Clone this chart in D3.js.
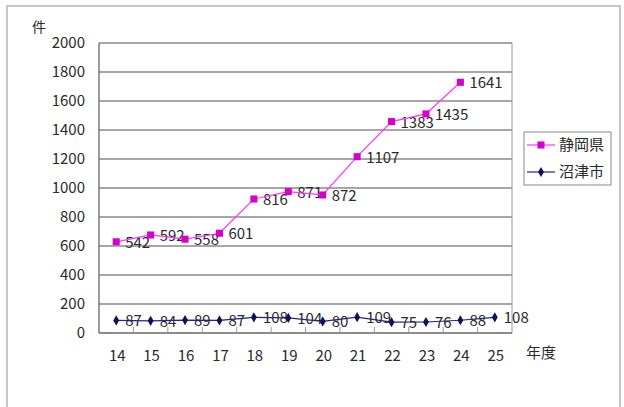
<!DOCTYPE html>
<html>
<head>
<meta charset="utf-8">
<script src="https://cdn.jsdelivr.net/npm/d3@7"></script>
<style>
  body { margin: 0; background: #fff; }
  svg text { font-family: "Noto Sans CJK JP", "DejaVu Sans", sans-serif; fill: #2a2a2a; }
</style>
</head>
<body>
<svg id="chart" width="624" height="407"></svg>
<script>
// 年度 / 件数 (stacked line: 静岡県 sits on top of 沼津市)
const years = ["14", "15", "16", "17", "18", "19", "20", "21", "22", "23", "24", "25"]
const numazu = [87, 84, 89, 87, 108, 104, 80, 109, 75, 76, 88, 108]
const shizuoka = [542, 592, 558, 601, 816, 871, 872, 1107, 1383, 1435, 1641, null]
const yTicks = [0, 200, 400, 600, 800, 1000, 1200, 1400, 1600, 1800, 2000]
const seriesNames = ["静岡県", "沼津市"]

const svg = d3.select("#chart")
const plot = { left: 99, right: 512, top: 43, bottom: 333 }

// outer frame
svg.append("rect")
  .attr("x", 7).attr("y", 6)
  .attr("width", 613).attr("height", 420)
  .attr("fill", "#fff")
  .attr("stroke", "#b4b4b4")
  .attr("stroke-width", 1.5)

const x = d3.scalePoint().domain(years).range([plot.left, plot.right]).padding(0.5)
const y = d3.scaleLinear().domain([0, 2000]).range([plot.bottom, plot.top])
const step = x.step()

// grid lines
svg.append("g")
  .selectAll("line")
  .data(yTicks.filter(d => d > 0))
  .enter()
  .append("line")
  .attr("x1", plot.left).attr("x2", plot.right)
  .attr("y1", d => y(d)).attr("y2", d => y(d))
  .attr("stroke", "#8a8a8a")
  .attr("stroke-width", 1.3)

// plot border right side
svg.append("line")
  .attr("x1", plot.right).attr("x2", plot.right)
  .attr("y1", plot.top).attr("y2", plot.bottom)
  .attr("stroke", "#9a9a9a")

// axes lines
svg.append("line")
  .attr("x1", plot.left).attr("x2", plot.left)
  .attr("y1", plot.top).attr("y2", plot.bottom)
  .attr("stroke", "#666").attr("stroke-width", 1.3)
svg.append("line")
  .attr("x1", plot.left).attr("x2", plot.right)
  .attr("y1", plot.bottom).attr("y2", plot.bottom)
  .attr("stroke", "#666").attr("stroke-width", 1.3)

// category tick marks
svg.append("g")
  .selectAll("line")
  .data(years.slice(1))
  .enter()
  .append("line")
  .attr("x1", d => x(d) - step / 2).attr("x2", d => x(d) - step / 2)
  .attr("y1", plot.bottom - 6).attr("y2", plot.bottom)
  .attr("stroke", "#999")

// y labels
svg.append("g")
  .selectAll("text")
  .data(yTicks)
  .enter()
  .append("text")
  .attr("x", 85)
  .attr("y", d => y(d) + 5)
  .attr("text-anchor", "end")
  .attr("font-size", 15)
  .text(d => d)

// x labels
svg.append("g")
  .selectAll("text")
  .data(years)
  .enter()
  .append("text")
  .attr("x", d => x(d) + 1)
  .attr("y", 361)
  .attr("text-anchor", "middle")
  .attr("font-size", 15)
  .text(d => d)

svg.append("text").attr("x", 39).attr("y", 32).attr("text-anchor", "middle")
  .attr("font-size", 14).text("件")
svg.append("text").attr("x", 541).attr("y", 358).attr("text-anchor", "middle")
  .attr("font-size", 15).text("年度")

// stacked values
const numPts = years.map((yr, i) => ({ yr, v: numazu[i], top: numazu[i] }))
const shiPts = years.map((yr, i) => ({ yr, v: shizuoka[i], top: numazu[i] + shizuoka[i] }))
  .filter(d => d.v != null)

const line = d3.line().x(d => x(d.yr)).y(d => y(d.top))

// data labels
const addLabels = (pts) => svg.append("g")
  .selectAll("text")
  .data(pts)
  .enter()
  .append("text")
  .attr("x", d => x(d.yr) + 9)
  .attr("y", d => y(d.top) + 6)
  .attr("font-size", 15)
  .text(d => d.v)
addLabels(shiPts)
addLabels(numPts)

svg.append("path").datum(shiPts).attr("d", line)
  .attr("fill", "none").attr("stroke", "#ff33ff").attr("stroke-width", 1.2)
svg.append("path").datum(numPts).attr("d", line)
  .attr("fill", "none").attr("stroke", "#24247a").attr("stroke-width", 1.2)

const square = d3.symbol().type(d3.symbolSquare).size(50)
const diamond = d3.symbol().type(d3.symbolDiamond).size(30)

svg.append("g").selectAll("path").data(shiPts).enter().append("path")
  .attr("d", square)
  .attr("transform", d => `translate(${x(d.yr)},${y(d.top)})`)
  .attr("fill", "#d400cc")
svg.append("g").selectAll("path").data(numPts).enter().append("path")
  .attr("d", diamond)
  .attr("transform", d => `translate(${x(d.yr)},${y(d.top)})`)
  .attr("fill", "#10105a")

// legend
const legend = svg.append("g")
legend.append("rect")
  .attr("x", 524).attr("y", 132).attr("width", 87).attr("height", 53)
  .attr("fill", "#fff").attr("stroke", "#8a8a8a")
const legendItems = [
  { name: seriesNames[0], color: "#ff33ff", fill: "#d400cc", sym: square, y: 145 },
  { name: seriesNames[1], color: "#24247a", fill: "#10105a", sym: diamond, y: 172 },
]
legendItems.forEach(item => {
  legend.append("line")
    .attr("x1", 527).attr("x2", 555).attr("y1", item.y).attr("y2", item.y)
    .attr("stroke", item.color).attr("stroke-width", 1.2)
  legend.append("path").attr("d", item.sym)
    .attr("transform", `translate(541,${item.y})`).attr("fill", item.fill)
  legend.append("text").attr("x", 559).attr("y", item.y + 5)
    .attr("font-size", 15).text(item.name)
})
</script>
</body>
</html>
